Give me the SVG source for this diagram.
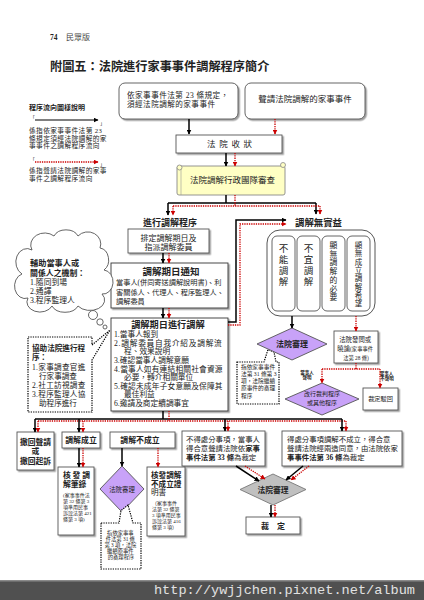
<svg xmlns="http://www.w3.org/2000/svg" width="424" height="600" viewBox="0 0 424 600">
<defs>
<style>
text{font-family:"Liberation Serif","Noto Sans CJK TC","Noto Sans CJK SC",serif;fill:#222}
.b{font-weight:bold}
.c{text-anchor:middle}
.box{fill:#fff;stroke:#555;stroke-width:0.9}
.sh{filter:url(#sh)}
.k{fill:none;stroke:#000;stroke-width:1.5}
.r{fill:none;stroke:#c00;stroke-width:1.3;stroke-dasharray:1.3 1}
.dt{fill:#fff;stroke:#000;stroke-width:1.2;stroke-dasharray:1.3 1.1}
.pur{fill:#c8a2f8;stroke:#555;stroke-width:0.9}
.gry{fill:#c0c0c0;stroke:#777;stroke-width:0.9}
.ka{marker-end:url(#ak)}
.ra{marker-end:url(#ar)}
</style>
<filter id="sh" x="-10%" y="-10%" width="130%" height="130%"><feDropShadow dx="1.5" dy="1.5" stdDeviation="0.5" flood-color="#888" flood-opacity="0.8"/></filter>
<marker id="ak" viewBox="0 0 10 10" refX="9" refY="5" markerWidth="5" markerHeight="5" markerUnits="userSpaceOnUse" orient="auto"><path d="M0,0L10,5L0,10z" fill="#000"/></marker>
<marker id="ar" viewBox="0 0 10 10" refX="9" refY="5" markerWidth="5" markerHeight="5" markerUnits="userSpaceOnUse" orient="auto"><path d="M0,0L10,5L0,10z" fill="#c00"/></marker>
</defs>
<rect width="424" height="600" fill="#fff"/>

<g id="header">
<text y="40"><tspan x="50" font-size="7.5" class="b">74</tspan><tspan x="66" font-size="8" fill="#444">民眾版</tspan></text>
</g>
<g id="title"><text x="50" y="71" font-size="12.2" class="b" fill="#111">附圖五：法院進行家事事件調解程序簡介</text></g>

<g id="legend">
<path class="k ka" d="M35,120H98" style="stroke-width:1.2"/>
<path class="r ra" d="M35,162H98"/>
<text font-size="6.7">
<tspan x="29" y="110" font-size="7" class="b">程序流向圖樣說明</tspan>
<tspan x="30" y="118.5" font-size="5">「</tspan>
<tspan x="100" y="124.5" font-size="5">」</tspan>
<tspan x="29" y="133" letter-spacing="0.4">係指依家事事件法第 23</tspan>
<tspan x="29" y="140.5" letter-spacing="0.4">條規定須經法院調解的家</tspan>
<tspan x="29" y="148" letter-spacing="0.4">事事件之調解程序流向</tspan>
<tspan x="30" y="160.5" font-size="5">「</tspan>
<tspan x="100" y="165.5" font-size="5">」</tspan>
<tspan x="29" y="173" letter-spacing="0.4">係指聲請法院調解的家事</tspan>
<tspan x="29" y="180.5" letter-spacing="0.4">事件之調解程序流向</tspan>
</text>
</g>

<g id="n-mandatory">
<rect class="box sh" x="119" y="83" width="119" height="36" rx="6"/>
<text font-size="7.6" letter-spacing="0.45"><tspan x="127" y="98">依家事事件法第 23 條規定，</tspan><tspan x="127" y="106.5">須經法院調解的家事事件</tspan></text>
</g>
<g id="n-petition">
<rect class="box sh" x="245" y="83" width="120" height="36" rx="6"/>
<text x="305" y="102" font-size="8.5" class="c">聲請法院調解的家事事件</text>
</g>
<g id="n-receive">
<rect class="box sh" x="176" y="135" width="106" height="18"/>
<text x="207" y="147" font-size="8.5" letter-spacing="3.7">法院收狀</text>
</g>
<g id="n-review">
<rect x="177" y="166" width="108" height="29" rx="2" fill="#ffffc4" stroke="#888" stroke-width="0.9"/>
<path d="M181,166V195" fill="none" stroke="#999" stroke-width="0.6"/>
<circle cx="179.5" cy="167.5" r="2.5" fill="#ffffc4" stroke="#888" stroke-width="0.8"/>
<circle cx="283" cy="165" r="2.5" fill="#ffffc4" stroke="#888" stroke-width="0.8"/>
<text x="190" y="183" font-size="8.5">法院調解行政團隊審查</text>
</g>

<g id="l-proc"><text x="170" y="225.5" font-size="9" class="b c">進行調解程序</text></g>
<g id="l-fruitless"><text x="295" y="225.5" font-size="9.4" class="b">調解無實益</text></g>

<g id="n-schedule">
<rect class="box sh" x="128" y="229" width="81" height="24"/>
<text font-size="8" class="c"><tspan x="168.5" y="240.5">排定調解期日及</tspan><tspan x="168.5" y="249.5">指派調解委員</tspan></text>
</g>
<g id="n-notice">
<rect class="box sh" x="111" y="263" width="117" height="45" style="stroke:#333"/>
<text font-size="7.2">
<tspan x="142.5" y="274.5" font-size="9.5" class="b">調解期日通知</tspan>
<tspan x="116" y="284.5">當事人(併同寄送調解說明書)、利</tspan>
<tspan x="116" y="294.5">害關係人、代理人、程序監理人、</tspan>
<tspan x="116" y="304">調解委員</tspan>
</text>
</g>
<g id="n-session">
<rect class="box sh" x="111" y="318" width="117" height="93" style="stroke:#333"/>
<text font-size="7.7">
<tspan x="131.2" y="327.8" font-size="9.2" class="b">調解期日進行調解</tspan>
<tspan x="114" y="337">1.當事人報到</tspan>
<tspan x="114" y="345.6" letter-spacing="0.75">2.調解委員自我介紹及調解流</tspan>
<tspan x="124" y="354.2">程、效果說明</tspan>
<tspan x="114" y="362.9">3.確認當事人調解意願</tspan>
<tspan x="114" y="371.5" letter-spacing="0.2">4.當事人如有連結相關社會資源</tspan>
<tspan x="124" y="380.1">必要，轉介相關單位</tspan>
<tspan x="114" y="388.7" letter-spacing="0.2">5.確認未成年子女意願及保障其</tspan>
<tspan x="124" y="397.4">最佳利益</tspan>
<tspan x="114" y="406">6.邀請及商定續調事宜</tspan>
</text>
</g>

<g id="n-cloud">
<path d="M32,250a14,12 0 0 1 22,-14a13,10 0 0 1 24,0a13,12 0 0 1 22,12a10,12 0 0 1 4,22a10,12 0 0 1 -2,24a14,10 0 0 1 -24,12a14,10 0 0 1 -26,0a13,10 0 0 1 -24,-8a10,12 0 0 1 -6,-24a10,12 0 0 1 10,-24z" fill="#fff" stroke="#555" stroke-width="0.9"/>
<circle cx="93" cy="315" r="4.5" fill="#fff" stroke="#555" stroke-width="0.9"/>
<circle cx="100" cy="322" r="3.2" fill="#fff" stroke="#555" stroke-width="0.9"/>
<circle cx="105" cy="327" r="2" fill="#fff" stroke="#555" stroke-width="0.9"/>
<text font-size="7.8">
<tspan x="30" y="266" font-size="8.2" class="b">輔助當事人或</tspan>
<tspan x="30" y="276" font-size="7.9" class="b">關係人之機制：</tspan>
<tspan x="30" y="285">1.隨同到場</tspan>
<tspan x="30" y="294">2.通譯</tspan>
<tspan x="30" y="303">3.程序監理人</tspan>
</text>
</g>

<g id="n-assist">
<path class="dt" d="M28,337H92V345L110,330L92,360V412H28Z"/>
<text font-size="7.6">
<tspan x="32" y="351" class="b">協助法院進行程</tspan>
<tspan x="32" y="360" class="b">序：</tspan>
<tspan x="32" y="369.5" letter-spacing="0.3">1.家事調查官進</tspan>
<tspan x="39" y="378.5">行家事調查</tspan>
<tspan x="32" y="388" letter-spacing="0.3">2.社工訪視調查</tspan>
<tspan x="32" y="397" letter-spacing="0.3">3.程序監理人協</tspan>
<tspan x="39" y="406">助程序進行</tspan>
</text>
</g>

<g id="n-fruitless">
<rect x="267" y="230" width="108" height="86" rx="13" fill="#fff" stroke="#555" stroke-width="1"/>
<rect class="box" x="272" y="236" width="23" height="75" rx="5"/>
<rect class="box" x="297" y="236" width="23" height="75" rx="5"/>
<rect class="box" x="322" y="236" width="23" height="75" rx="5"/>
<rect class="box" x="347" y="236" width="23" height="75" rx="5"/>
<text font-size="9.5" class="c"><tspan x="283.5" y="251.5">不</tspan><tspan x="283.5" y="262.5">能</tspan><tspan x="283.5" y="273.5">調</tspan><tspan x="283.5" y="284.5">解</tspan></text>
<text font-size="9.5" class="c"><tspan x="308.5" y="251.5">不</tspan><tspan x="308.5" y="262.5">宜</tspan><tspan x="308.5" y="273.5">調</tspan><tspan x="308.5" y="284.5">解</tspan></text>
<text font-size="7.8" class="c"><tspan x="333.5" y="248">顯</tspan><tspan x="333.5" y="256.7">無</tspan><tspan x="333.5" y="265.4">調</tspan><tspan x="333.5" y="274.1">解</tspan><tspan x="333.5" y="282.8">的</tspan><tspan x="333.5" y="291.5">必</tspan><tspan x="333.5" y="300.2">要</tspan></text>
<text font-size="7.5" class="c"><tspan x="358.5" y="248">顯</tspan><tspan x="358.5" y="256.3">無</tspan><tspan x="358.5" y="264.6">成</tspan><tspan x="358.5" y="272.9">立</tspan><tspan x="358.5" y="281.2">調</tspan><tspan x="358.5" y="289.5">解</tspan><tspan x="358.5" y="297.8">希</tspan><tspan x="358.5" y="306.1">望</tspan></text>
</g>

<g id="n-callout-r">
<path class="dt" d="M237,362H264L268,349.5L274,352L276,362H279V404H237Z"/>
<text font-size="5.7">
<tspan x="241" y="368.5">指依家事事件</tspan>
<tspan x="241" y="375.75">法第 31 條第 3</tspan>
<tspan x="241" y="383">項，法院繼續</tspan>
<tspan x="241" y="390.25">原事件的審理</tspan>
<tspan x="241" y="397.5">程序</tspan>
</text>
</g>
<g id="n-court-r">
<polygon class="pur" points="292,328 327,344 292,360 257,344"/>
<text x="292" y="347" font-size="8" class="b c">法院審理</text>
</g>
<g id="n-ask">
<rect class="box sh" x="334" y="331" width="44" height="32"/>
<text font-size="6.4" class="c">
<tspan x="356" y="341.5">法院發問或</tspan>
<tspan x="356" y="350.5">曉諭<tspan font-size="5.3">(家事事件</tspan></tspan>
<tspan x="356" y="359.5" font-size="5.3">法第 28 條)</tspan>
</text>
</g>
<g id="l-parties">
<text font-size="4.5" class="b c">
<tspan x="307.5" y="373.5">當事人</tspan>
<tspan x="307.5" y="378.6">聲明</tspan>
<tspan x="387" y="375">當事人</tspan>
<tspan x="387" y="380.1">不聲明</tspan>
</text>
</g>
<g id="n-convert">
<polygon class="pur" points="322,383 359,399 322,415 285,399"/>
<text font-size="6" class="c" fill="#333"><tspan x="322" y="396">改行裁判程序</tspan><tspan x="322" y="404.5">或其他程序</tspan></text>
</g>
<g id="n-dismiss">
<rect class="box sh" x="363" y="388" width="35" height="22"/>
<text x="380.5" y="401" font-size="6.2" class="c">裁定駁回</text>
</g>

<g id="n-withdraw">
<rect class="box sh" x="17" y="432" width="37" height="38"/>
<text font-size="7.8" class="b c"><tspan x="35.5" y="444.5">撤回聲請</tspan><tspan x="35.5" y="454">或</tspan><tspan x="35.5" y="463.5">撤回起訴</tspan></text>
</g>
<g id="n-success">
<rect class="box sh" x="62" y="432" width="38" height="16"/>
<text x="81" y="443" font-size="7.9" class="b c">調解成立</text>
</g>
<g id="n-fail">
<rect class="box sh" x="110" y="432" width="65" height="16"/>
<text x="140" y="443" font-size="7.9" class="b c">調解不成立</text>
</g>
<g id="n-nondisp">
<rect class="box sh" x="182" y="431" width="83" height="35"/>
<text font-size="7.4">
<tspan x="186" y="442">不得處分事項，當事人</tspan>
<tspan x="186" y="451">得合意聲請法院依<tspan class="b">家事</tspan></tspan>
<tspan x="186" y="460"><tspan class="b">事件法第 33 條</tspan>為裁定</tspan>
</text>
</g>
<g id="n-disp">
<rect class="box sh" x="282" y="431" width="120" height="35"/>
<text font-size="7.4">
<tspan x="287" y="442">得處分事項調解不成立，得合意</tspan>
<tspan x="287" y="451">聲請法院經兩造同意，由法院依家</tspan>
<tspan x="287" y="460"><tspan class="b">事事件法第 36 條</tspan>為裁定</tspan>
</text>
</g>

<g id="n-record">
<rect class="box sh" x="58" y="467" width="36" height="68"/>
<text font-size="5">
<tspan x="63" y="478" font-size="7.8" class="b" letter-spacing="1.8">核發調</tspan>
<tspan x="63" y="486.8" font-size="7.8" class="b">解筆錄</tspan>
<tspan x="63" y="497">(家事事件法</tspan>
<tspan x="63" y="503">第 32 條第 3</tspan>
<tspan x="63" y="509">項準用民事</tspan>
<tspan x="63" y="515">訴訟法第 421</tspan>
<tspan x="63" y="521">條第 3 項)</tspan>
</text>
</g>
<g id="n-court-l">
<polygon class="pur" points="122,466 144,489 122,512 100,489"/>
<text x="122" y="491.5" font-size="6.4" class="c" fill="#423">法院審理</text>
</g>
<g id="n-callout-l">
<path class="dt" d="M101,523H119L121,510.5L128,505L133,523H141V569H101Z"/>
<text font-size="5.3" class="c">
<tspan x="121" y="535">指依家事事</tspan>
<tspan x="121" y="540.9">件法第 31 條</tspan>
<tspan x="121" y="546.8">第 3 項，法院</tspan>
<tspan x="121" y="552.7">繼續原事件</tspan>
<tspan x="121" y="558.6">的審理程序</tspan>
</text>
</g>
<g id="n-cert">
<rect class="box sh" x="147" y="467" width="38" height="69"/>
<text font-size="5">
<tspan x="151" y="478" font-size="7.6" class="b">核發調解</tspan>
<tspan x="151" y="486.5" font-size="7.6" class="b">不成立證</tspan>
<tspan x="151" y="495" font-size="7.6">明書</tspan>
<tspan x="152" y="505">（家事事件</tspan>
<tspan x="152" y="511">法第 32 條第</tspan>
<tspan x="152" y="517">3 項準用民事</tspan>
<tspan x="152" y="523">訴訟法第 416</tspan>
<tspan x="152" y="529">條第 3 項）</tspan>
</text>
</g>
<g id="n-court-b">
<polygon class="gry" points="273,474 306,489.5 273,505 240,489.5"/>
<text x="273" y="492.5" font-size="7.8" class="b c">法院審理</text>
</g>
<g id="n-ruling">
<rect class="box sh" x="246" y="517" width="54" height="17"/>
<text x="273" y="529" font-size="8" class="b c">裁　定</text>
</g>

<g id="connectors">
<path class="k ka" d="M189,119V134"/>
<path class="r ra" d="M275,119V134"/>
<path class="k ka" d="M226,153V166"/>
<path class="r ra" d="M235,153V166"/>
<path class="k" d="M226,195V203M168,203H316"/>
<path class="k ka" d="M168,203V215"/>
<path class="k ka" d="M316,203V214"/>
<path class="r" d="M235,195V206M173,206H320"/>
<path class="r ra" d="M173,206V215"/>
<path class="r ra" d="M320,206V214"/>
<path class="k ka" d="M163,253V263"/>
<path class="r ra" d="M169,253V263"/>
<path class="k ka" d="M163,308V318"/>
<path class="r ra" d="M169,308V318"/>
<path class="k ka" d="M228,322H236V220H286"/>
<path class="r ra" d="M228,325H240V224H286"/>
<path class="k ka" d="M292,316V328"/>
<path class="r ra" d="M356,316V331"/>
<path class="r" d="M356,363V369M322,369H380"/>
<path class="r ra" d="M322,369V383"/>
<path class="r ra" d="M380,369V388"/>
<path class="k" d="M163,411V419M35,419H342"/>
<path class="r" d="M169,411V421M38,421H346"/>
<path class="k ka" d="M35,419V432"/>
<path class="r ra" d="M38,421V432"/>
<path class="k ka" d="M79,419V432"/>
<path class="r ra" d="M83,421V432"/>
<path class="k ka" d="M225,419V431"/>
<path class="r ra" d="M228,421V431"/>
<path class="k ka" d="M342,419V431"/>
<path class="r ra" d="M346,421V431"/>
<path class="k ka" d="M79,448V467"/>
<path class="r ra" d="M83,448V467"/>
<path class="k ka" d="M122,448V466"/>
<path class="r ra" d="M158,448V467"/>
<path class="k ka" d="M236,466L259,481"/>
<path class="r ra" d="M245,466L265,479"/>
<path class="k ka" d="M303,466L286,480"/>
<path class="r ra" d="M309,466L291,480"/>
<path class="k ka" d="M271,505V517"/>
<path class="r ra" d="M275,505V517"/>
</g>

<g id="watermark">
<rect x="0" y="580" width="424" height="20" fill="#505050"/>
<rect x="0" y="580" width="424" height="1.5" fill="#8a8a8a"/>
<text x="415" y="594" font-size="13.6" text-anchor="end" style="font-family:'Liberation Mono',monospace;fill:#e2e2e2">http://ywjjchen.pixnet.net/album</text>
</g>
</svg>
